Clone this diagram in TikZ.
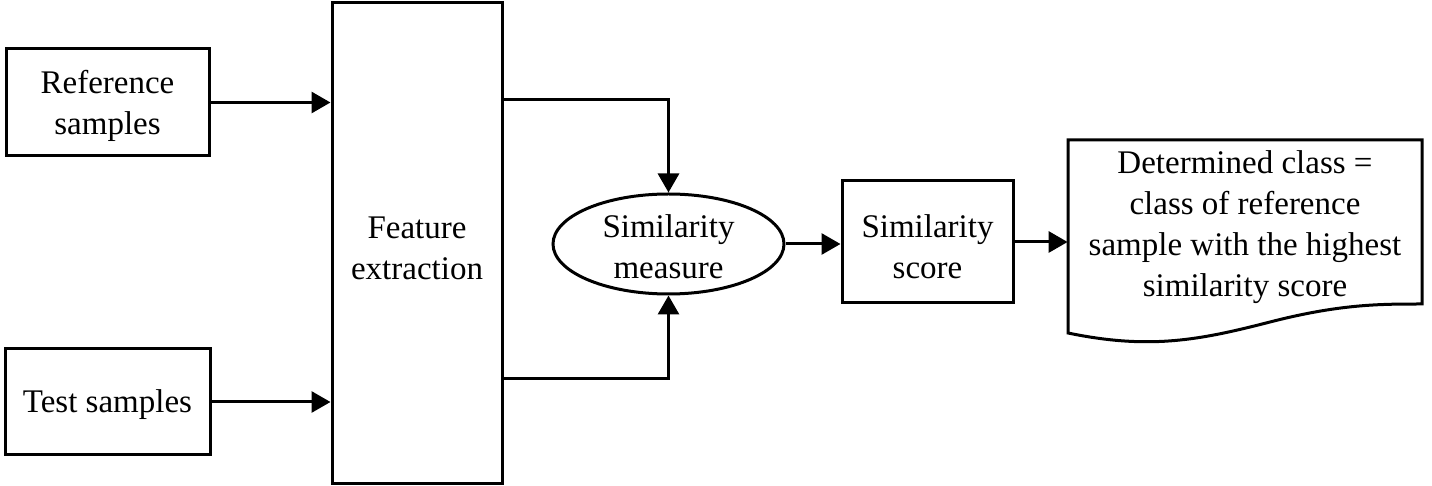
\documentclass[tikz,border=0pt]{standalone}
\usepackage{fontspec}
\setmainfont{Liberation Serif}
\usetikzlibrary{shapes.geometric,arrows.meta}
\begin{document}
\begin{tikzpicture}[x=0.5pt,y=-0.5pt,
  txt/.style={font=\fontsize{16.5}{20.5}\selectfont, align=center, inner sep=0pt},
  blk/.style={txt, draw, line width=1.5pt, rectangle},
  arr/.style={line width=1.5pt, -{Triangle[length=9.5pt,width=10.5pt]}},
  lin/.style={line width=1.5pt}]
\useasboundingbox (0,0) rectangle (1432,486);
\node[blk, minimum width=101.5pt, minimum height=53.5pt, text depth=0pt] (ref) at (107.5,102.5) {};
\node[txt] (reftext) at (107.5,106) {Reference\\samples};
\node[blk, minimum width=102.5pt, minimum height=53pt] (test) at (107.5,402) {};
\node[txt] (testtext) at (107.5,405) {Test samples};
\node[blk, minimum width=85pt, minimum height=240.5pt] (fe) at (417,243) {};
\node[txt] (fetext) at (417,248) {Feature\\extraction};
\node[ellipse, draw, line width=1.5pt, minimum width=115.5pt, minimum height=50pt, inner sep=0pt] (sm) at (668.5,244) {};
\node[txt] (smtext) at (668.5,247) {Similarity\\measure};
\node[blk, minimum width=85.5pt, minimum height=61pt] (sc) at (927.5,242) {};
\node[txt] (sctext) at (927.5,247) {Similarity\\score};
\node[minimum width=177pt, minimum height=96pt, inner sep=0pt] (docshape) at (1245,236) {};
\draw[lin, line join=miter] (1068,333) -- (1068,140) -- (1422,140) -- (1422,304)
  .. controls (1380,304) and (1340,304) .. (1270,322)
  .. controls (1200,340) and (1150,350) .. (1068,333) -- cycle;
\node[txt] (doctext) at (1245,227) {Determined class =\\class of reference\\sample with the highest\\similarity score};
\draw[arr] (ref.east) -- (fe.west |- ref.east);
\draw[arr] (test.east) -- (fe.west |- test.east);
\draw[arr] (fe.east |- 0,100) -| (sm.north);
\draw[arr] (fe.east |- 0,379) -| (sm.south);
\draw[arr] (sm.east) -- (sc.west |- sm.east);
\draw[arr] (sc.east) -- (docshape.west |- sc.east);
\end{tikzpicture}
\end{document}
